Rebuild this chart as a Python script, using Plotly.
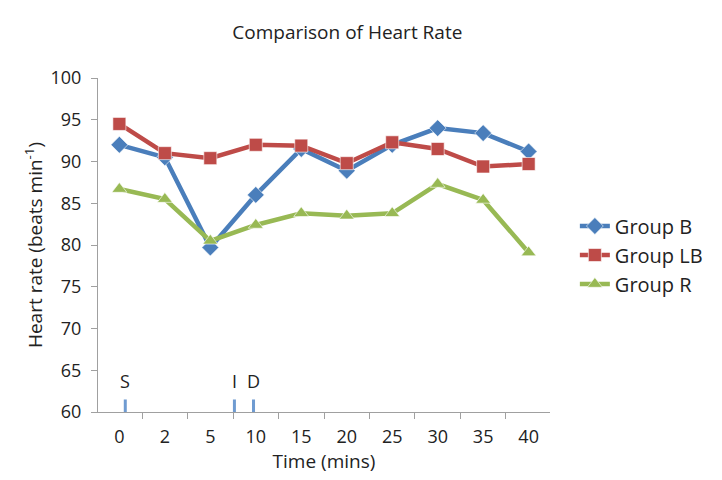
import plotly.graph_objects as go

times = ["0", "2", "5", "10", "15", "20", "25", "30", "35", "40"]
group_b = [92.0, 90.5, 79.7, 86.0, 91.5, 88.9, 92.0, 94.0, 93.4, 91.2]
group_lb = [94.5, 91.0, 90.4, 92.0, 91.9, 89.8, 92.3, 91.5, 89.4, 89.7]
group_r = [86.7, 85.5, 80.5, 82.4, 83.8, 83.5, 83.8, 87.3, 85.4, 79.1]
event_labels = ["S", "I", "D"]
event_pos = [0.13, 2.53, 2.95]  # positions in category units

idx = list(range(len(times)))
font = "Open Sans, Liberation Sans, sans-serif"

fig = go.Figure()
series = [
    ("Group B", group_b, "#4a7ebb", "diamond", 13),
    ("Group LB", group_lb, "#be4b48", "square", 13),
    ("Group R", group_r, "#98b954", "triangle-up", 13),
]
for name, vals, col, sym, sz in series:
    fig.add_trace(go.Scatter(
        x=idx, y=vals, name=name, mode="lines+markers",
        line=dict(color=col, width=4.5),
        marker=dict(symbol=sym, size=sz, color=col, line=dict(color="rgba(255,255,255,0.6)", width=1)),
    ))

for lab, p in zip(event_labels, event_pos):
    fig.add_trace(go.Scatter(
        x=[p, p], y=[60, 61.5], mode="lines", line=dict(color="#6f9bd1", width=3),
        showlegend=False, hoverinfo="skip"))
    fig.add_annotation(x=p, y=62.0, text=lab, showarrow=False,
                       font=dict(family=font, size=18, color="#222"), yanchor="bottom")

fig.update_layout(
    width=722, height=480,
    paper_bgcolor="white", plot_bgcolor="white",
    margin=dict(l=90, r=180, t=70, b=76),
    title=dict(text="Comparison of Heart Rate", x=0.47, xanchor="center", y=0.95, yanchor="middle",
               font=dict(family=font, size=19, color="#222")),
    font=dict(family=font, size=18, color="#222"),
    legend=dict(x=1.055, y=0.47, xanchor="left", yanchor="middle", itemwidth=30,
                font=dict(family=font, size=20, color="#222"), tracegroupgap=8),
    showlegend=True,
)
fig.update_xaxes(
    range=[-0.47, 9.47], tickvals=idx, ticktext=times, ticks="", showgrid=False,
    showline=True, linecolor="#a0a0a0", linewidth=1, zeroline=False,
    tickfont=dict(size=18), ticklabelstandoff=8,
    minor=dict(tickvals=[i - 0.5 for i in range(len(times) + 1)], ticks="outside",
               ticklen=6, tickcolor="#a0a0a0", showgrid=False),
    title=dict(text="Time (mins)", font=dict(size=19), standoff=2),
)
fig.update_yaxes(
    range=[60, 100], dtick=5, ticks="outside", ticklen=6, tickcolor="#a0a0a0",
    showgrid=False, showline=True, linecolor="#a0a0a0", linewidth=1, zeroline=False,
    tickfont=dict(size=18), ticklabelstandoff=6,
    title=dict(text="Heart rate (beats min<sup>-1</sup>)", font=dict(size=19), standoff=2),
)

fig.write_html("out.html")
